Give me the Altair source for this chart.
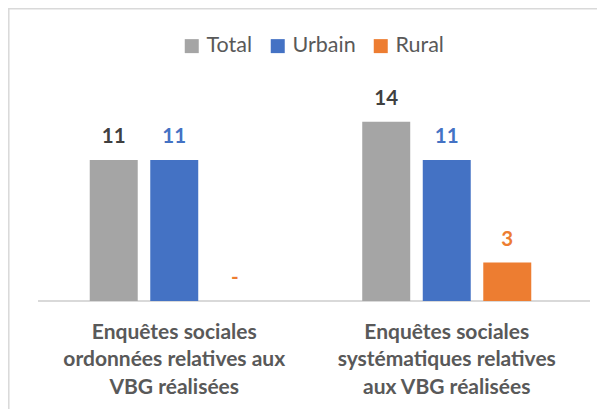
import altair as alt
import pandas as pd

categories = [
    "Enquêtes sociales\nordonnées relatives aux\nVBG réalisées",
    "Enquêtes sociales\nsystématiques relatives\naux VBG réalisées",
]
series = ["Total", "Urbain", "Rural"]
total = [11, 14]
urbain = [11, 11]
rural = [0, 3]

bar_colors = ["#A5A5A5", "#4472C4", "#ED7D31"]
label_colors = ["#404040", "#4472C4", "#ED7D31"]

rows = []
for i, c in enumerate(categories):
    for s, vals in zip(series, [total, urbain, rural]):
        v = vals[i]
        rows.append({"cat": c, "series": s, "value": v, "label": str(v) if v != 0 else "-"})
df = pd.DataFrame(rows)

FONT = "Lato"

x_enc = alt.X("cat:N", sort=categories, title=None,
              scale=alt.Scale(paddingInner=0, paddingOuter=0),
              axis=alt.Axis(labelExpr="split(datum.label, '\\n')", labelAngle=0,
                            labelFont=FONT, labelFontWeight="bold", labelFontSize=21,
                            labelColor="#595959", labelLineHeight=27.5, labelPadding=37,
                            labelLimit=0, ticks=False, domain=False, grid=False,
                            labelAlign="center", labelBaseline="alphabetic"))
xoff = alt.XOffset("series:N", sort=series,
                   scale=alt.Scale(paddingInner=0.207, paddingOuter=0.855))
y_enc = alt.Y("value:Q", scale=alt.Scale(domain=[0, 16]), axis=None, title=None)

base = alt.Chart(df)

bars = base.mark_bar().encode(
    x=x_enc, xOffset=xoff, y=y_enc,
    color=alt.Color("series:N", sort=series,
                    scale=alt.Scale(domain=series, range=bar_colors),
                    legend=alt.Legend(title=None, orient="none", legendX=143, legendY=-61,
                                      direction="horizontal", symbolType="square",
                                      symbolSize=196, symbolStrokeWidth=0,
                                      labelFont=FONT, labelFontSize=21.5,
                                      labelColor="#595959", labelOffset=4,
                                      columnPadding=14)),
)

texts = base.mark_text(font=FONT, fontWeight="bold", fontSize=20.5, dy=-17,
                       baseline="alphabetic").encode(
    x=x_enc, xOffset=xoff, y=y_enc,
    text="label:N",
    color=alt.Color("series:N", sort=series,
                    scale=alt.Scale(domain=series, range=label_colors), legend=None),
)

one = alt.Data(values=[{}])
baseline = alt.Chart(one).mark_rule(color="#D9D9D9", strokeWidth=2).encode(
    x=alt.value(0), x2=alt.value(552), y=alt.value(205))
border_top = alt.Chart(one).mark_rule(color="#D9D9D9", strokeWidth=1.5).encode(
    x=alt.value(-30), x2=alt.value(600), y=alt.value(-87.2))
border_left = alt.Chart(one).mark_rule(color="#D9D9D9", strokeWidth=1.5).encode(
    x=alt.value(-29.2), y=alt.value(-88), y2=alt.value(320))

chart = alt.layer(border_top, border_left, baseline, bars, texts).resolve_scale(
    color="independent"
).properties(
    width=545, height=205,
    autosize=alt.AutoSizeParams(type="none"),
    padding={"left": 30, "top": 88, "right": 14, "bottom": 108},
).configure_view(stroke=None)

chart.save("out.html", embed_options={"renderer": "svg", "actions": False})
